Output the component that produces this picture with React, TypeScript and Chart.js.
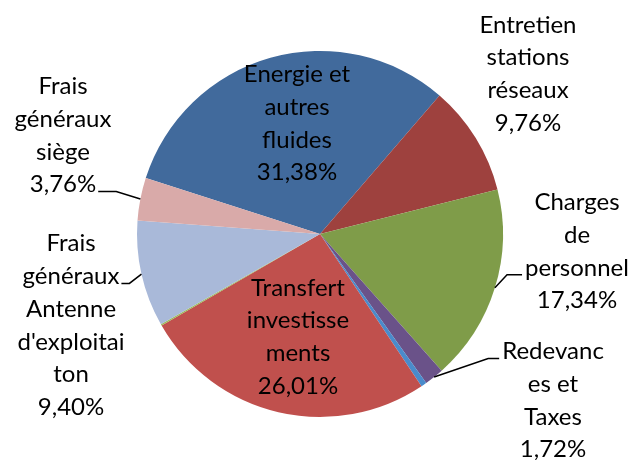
import React, { useEffect, useRef } from "react";
import { Chart, registerables } from "chart.js";

Chart.register(...registerables);

// ---- data ----
const categories = [
  "Energie et autres fluides",
  "Entretien stations réseaux",
  "Charges de personnel",
  "Redevances et Taxes",
  "",
  "Transfert investissements",
  "",
  "Frais généraux Antenne d'exploitaiton",
  "Frais généraux siège",
];
const values = [31.38, 9.76, 17.34, 1.72, 0.5, 26.01, 0.13, 9.4, 3.76];
const labelLines: string[][] = [
  ["Energie et", "autres", "fluides"],
  ["Entretien", "stations", "réseaux"],
  ["Charges", "de", "personnel"],
  ["Redevanc", "es et", "Taxes"],
  [],
  ["Transfert", "investisse", "ments"],
  [],
  ["Frais", "généraux", "Antenne", "d'exploitai", "ton"],
  ["Frais", "généraux", "siège"],
];
const colors = [
  "#416A9C",
  "#9E413E",
  "#7F9C49",
  "#6A5289",
  "#4A8BCB",
  "#C0504D",
  "#9BBB59",
  "#A9B9D9",
  "#D9AAA9",
];

// ---- layout (label block centres relative to pie centre, in radius units) ----
const labelLayout = [
  { dx: -23 / 183, dy: -110.5 / 183 },
  { dx: 208 / 183, dy: -160 / 183 },
  { dx: 257 / 183, dy: 17.5 / 183 },
  { dx: 233 / 183, dy: 166.5 / 183 },
  null,
  { dx: -22 / 183, dy: 103 / 183 },
  null,
  { dx: -249 / 183, dy: 91.5 / 183 },
  { dx: -257 / 183, dy: -98.5 / 183 },
];
const leaders: Record<number, { line: number; side: "left" | "right"; h: number }> = {
  2: { line: 2, side: "left", h: 15 },
  3: { line: 0, side: "left", h: 11 },
  7: { line: 1, side: "right", h: 8 },
  8: { line: 3, side: "right", h: 18 },
};

const FONT_SIZE = 24;
const LINE_H = 32.7;
const FONT = `${FONT_SIZE}px Lato, "Open Sans", sans-serif`;

const fmtPct = (v: number) => v.toFixed(2).replace(".", ",") + "%";

const labelPlugin = {
  id: "excelLabels",
  afterDraw(chart: any) {
    const ctx: CanvasRenderingContext2D = chart.ctx;
    const meta = chart.getDatasetMeta(0);
    ctx.save();
    ctx.font = FONT;
    ctx.fillStyle = "#000";
    ctx.textAlign = "center";
    ctx.textBaseline = "middle";
    meta.data.forEach((arc: any, i: number) => {
      const lay = labelLayout[i];
      if (!lay) return;
      const r = arc.outerRadius;
      const lines = [...labelLines[i], fmtPct(values[i])];
      const cx = arc.x + lay.dx * r;
      const cy = arc.y + lay.dy * r;
      const top = cy - ((lines.length - 1) * LINE_H) / 2;
      lines.forEach((t, k) => ctx.fillText(t, cx, top + k * LINE_H));
      const ld = leaders[i];
      if (ld) {
        const t = lines[ld.line];
        const w = ctx.measureText(t).width;
        const ly = top + ld.line * LINE_H + 7;
        const sx = ld.side === "right" ? cx + w / 2 + 2 : cx - w / 2 - 3;
        const ex = ld.side === "right" ? sx + ld.h : sx - ld.h;
        const mid = (arc.startAngle + arc.endAngle) / 2;
        const px = arc.x + Math.cos(mid) * r;
        const py = arc.y + Math.sin(mid) * r;
        ctx.beginPath();
        ctx.strokeStyle = "#000";
        ctx.lineWidth = 1.5;
        ctx.moveTo(sx, ly);
        ctx.lineTo(ex, ly);
        ctx.lineTo(px, py);
        ctx.stroke();
      }
    });
    ctx.restore();
  },
};

export default function App() {
  const ref = useRef<HTMLCanvasElement | null>(null);
  useEffect(() => {
    if (!ref.current) return;
    const chart = new Chart(ref.current, {
      type: "pie",
      data: {
        labels: categories,
        datasets: [
          {
            data: values,
            backgroundColor: colors,
            borderWidth: 0,
          },
        ],
      },
      options: {
        responsive: false,
        animation: false,
        events: [],
        rotation: 287.8,
        layout: { padding: { left: 137, right: 130, top: 51, bottom: 43 } },
        plugins: {
          legend: { display: false },
          tooltip: { enabled: false },
        },
      },
      plugins: [labelPlugin],
    });
    return () => chart.destroy();
  }, []);
  return (
    <div style={{ position: "absolute", left: 0, top: 0, width: 633, height: 460, background: "#fff" }}>
      <canvas ref={ref} width={633} height={460} style={{ width: 633, height: 460, display: "block" }} />
    </div>
  );
}
